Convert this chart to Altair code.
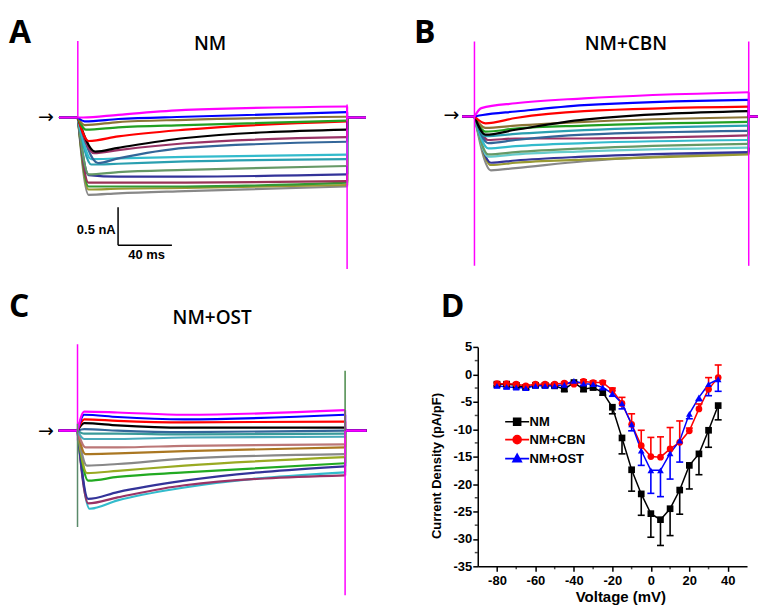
import altair as alt
import pandas as pd

MAGENTA = "#ff00ff"

# ---------------- Panel A : NM current traces (nA), listed top -> bottom ----------------
A_colors = ["#ff00ff", "#0000ff", "#8b7536", "#22a022", "#ff0000", "#000000", "#993366", "#336699",
            "#33bbcc", "#2a9fb0", "#669966", "#333399", "#993355", "#339933", "#999933", "#888888"]
A_tpeak = [4, 5, 5, 6, 8, 13, 12, 15, 10, 10, 8, 8, 8, 8, 8, 8]
A_peak = [0.0, -0.05, -0.10, -0.16, -0.31, -0.45, -0.47, -0.60, -0.55, -0.62, -0.75, -0.76, -0.86, -0.91, -0.95, -1.02]
A_early = [0.035, -0.02, -0.06, -0.13, -0.25, -0.40, -0.43, -0.54, -0.54, -0.61, -0.72, -0.78, -0.86, -0.91, -0.94, -1.0]
A_mid = [0.10, 0.01, -0.03, -0.10, -0.16, -0.27, -0.34, -0.40, -0.52, -0.58, -0.69, -0.78, -0.86, -0.91, -0.93, -0.97]
A_end = [0.145, 0.07, 0.01, -0.04, -0.05, -0.16, -0.26, -0.32, -0.49, -0.55, -0.64, -0.75, -0.84, -0.86, -0.89, -0.91]
A_spike_t = [0, 200]
A_spike_top = [1.01, 0.17]
A_spike_bottom = [0.0, -2.0]
A_spike_color = [MAGENTA, MAGENTA]

# ---------------- Panel B : NM+CBN ----------------
B_colors = ["#ff00ff", "#0000ff", "#ff0000", "#000000", "#8b7536", "#22a022", "#2a9fb0", "#336699",
            "#993366", "#33bbcc", "#669966", "#66cccc", "#333399", "#999933", "#888888"]
B_tpeak = [5, 6, 8, 8, 8, 8, 8, 10, 10, 10, 10, 10, 12, 12, 12]
B_peak = [0.11, 0.02, -0.09, -0.24, -0.15, -0.20, -0.26, -0.35, -0.31, -0.42, -0.50, -0.53, -0.61, -0.64, -0.71]
B_early = [0.175, 0.066, -0.02, -0.175, -0.12, -0.16, -0.23, -0.31, -0.29, -0.39, -0.47, -0.50, -0.58, -0.61, -0.68]
B_mid = [0.24, 0.15, 0.07, -0.04, -0.07, -0.12, -0.18, -0.24, -0.29, -0.35, -0.42, -0.46, -0.53, -0.57, -0.59]
B_end = [0.32, 0.22, 0.13, 0.07, -0.01, -0.07, -0.12, -0.19, -0.25, -0.31, -0.36, -0.41, -0.47, -0.50, -0.48]
B_spike_t = [0, 200]
B_spike_top = [0.99, 0.99]
B_spike_bottom = [-1.97, -1.97]
B_spike_color = [MAGENTA, MAGENTA]

# ---------------- Panel C : NM+OST ----------------
C_colors = ["#ff00ff", "#0000ff", "#ff0000", "#000000", "#336699", "#3a9a9a", "#4aaabb", "#bb7777",
            "#aa7722", "#888888", "#99aa22", "#22aa22", "#333399", "#993366", "#33bbcc"]
C_tpeak = [5, 5, 5, 5, 5, 5, 5, 6, 6, 7, 7, 8, 8, 8, 9]
C_peak = [0.25, 0.21, 0.15, 0.10, 0.02, -0.04, -0.11, -0.22, -0.31, -0.46, -0.56, -0.66, -0.90, -0.96, -1.03]
C_early = [0.24, 0.18, 0.13, 0.07, 0.0, -0.04, -0.11, -0.22, -0.30, -0.44, -0.53, -0.61, -0.81, -0.88, -0.92]
C_mid = [0.21, 0.15, 0.11, 0.04, -0.02, -0.05, -0.09, -0.20, -0.27, -0.37, -0.46, -0.55, -0.66, -0.72, -0.75]
C_end = [0.27, 0.21, 0.12, 0.04, 0.0, -0.04, -0.08, -0.18, -0.22, -0.31, -0.35, -0.43, -0.47, -0.59, -0.55]
C_spike_t = [0, 0, 200, 200]
C_spike_top = [1.14, 0.09, 0.79, 0.0]
C_spike_bottom = [-0.13, -1.27, -0.10, -2.17]
C_spike_color = [MAGENTA, "#5a8a6a", "#4a8a4a", MAGENTA]

STEP_END = 200.0      # ms, end of the voltage step
EARLY_T = 30.0        # ms, time of the early reading
MID_T = 80.0          # ms, time of the mid reading
SCALE_MS = 40         # scale bar
SCALE_NA = 0.5

# ---------------- Panel D : I-V relationship ----------------
voltage = [-80, -75, -70, -65, -60, -55, -50, -45, -40, -35, -30, -25,
           -20, -15, -10, -5, 0, 5, 10, 15, 20, 25, 30, 35]
nm_mean = [-1.8, -1.8, -2.0, -2.4, -2.0, -2.0, -2.1, -2.7, -1.5, -2.7, -2.4, -3.3,
           -6.0, -11.6, -17.4, -21.8, -25.4, -26.5, -24.5, -21.1, -16.6, -14.5, -10.2, -5.7]
nm_err = [0.3, 0.3, 0.3, 0.3, 0.3, 0.3, 0.3, 0.4, 0.3, 0.4, 0.4, 0.5,
          1.2, 2.9, 3.9, 3.9, 4.3, 4.7, 4.9, 4.4, 4.3, 3.8, 3.1, 2.6]
cbn_mean = [-1.7, -1.7, -1.8, -2.1, -1.8, -1.8, -1.8, -1.6, -1.8, -1.3, -1.5, -1.5,
            -2.9, -5.3, -9.1, -13.0, -15.0, -15.1, -13.6, -12.4, -10.3, -6.3, -2.7, -0.6]
cbn_err = [0.2, 0.2, 0.2, 0.2, 0.2, 0.2, 0.2, 0.2, 0.2, 0.3, 0.3, 0.3,
           0.4, 1.1, 1.9, 2.8, 3.5, 3.7, 3.9, 3.9, 0.5, 0.9, 2.1, 2.3]
ost_mean = [-2.1, -2.3, -2.4, -2.5, -2.1, -2.1, -2.1, -1.9, -1.2, -1.7, -1.8, -2.4,
            -3.5, -5.3, -9.1, -13.9, -17.5, -17.5, -14.4, -12.1, -7.2, -4.2, -1.8, -0.9]
ost_err = [0.3, 0.3, 0.3, 0.3, 0.3, 0.3, 0.3, 0.3, 0.3, 0.3, 0.3, 0.3,
           0.5, 1.0, 1.2, 2.7, 4.2, 4.8, 4.7, 3.9, 0.9, 0.6, 2.1, 2.2]
series = ["NM", "NM+CBN", "NM+OST"]
series_colors = ["#000000", "#ff0000", "#0000ff"]
series_shapes = ["square", "circle", "triangle-up"]
err_direction = [-1, 1, -1]
X_MIN, X_MAX = -90, 50
Y_MIN, Y_MAX = -35, 5
x_major = [-80, -60, -40, -20, 0, 20, 40]
x_minor = [-70, -50, -30, -10, 10, 30]
y_major = [-35, -30, -25, -20, -15, -10, -5, 0, 5]
y_minor = [-32.5, -27.5, -22.5, -17.5, -12.5, -7.5, -2.5, 2.5]

# legend symbols: a line segment with the series marker on it
legend_paths = [
    "M-3.43,0H3.43M-1,-1H1V1H-1Z",
    "M-3.43,0H3.43M-1.15,0A1.15,1.15,0,1,0,1.15,0A1.15,1.15,0,1,0,-1.15,0Z",
    "M-3.43,0H3.43M0,-1.25L1.2,0.9H-1.2Z",
]


def trace_frame(colors, tpeak, peak, early, mid, end, t_pre, t_post):
    rows = []
    n = len(colors)
    for i in reversed(range(n)):
        key = f"{n - 1 - i:02d}"
        parts = {
            "a_pre": [(t_pre, 0.0), (0.0, 0.0)],
            "b_step": [(0.0, 0.0), (tpeak[i], peak[i]), (EARLY_T, early[i]), (MID_T, mid[i]), (STEP_END, end[i])],
            "c_post": [(STEP_END, end[i]), (STEP_END, 0.0), (t_post, 0.0)],
        }
        for part, pts in parts.items():
            for k, (t, v) in enumerate(pts):
                rows.append({"trace": key, "seg": key + part, "part": part, "color": colors[i],
                             "k": k, "t": t, "v": v})
    return pd.DataFrame(rows)


def spike_frame(t, top, bottom, colors):
    return pd.DataFrame({"t": t, "v1": top, "v2": bottom, "color": colors})


def label(text, x, y, size, font="Open Sans", weight="bold", align="left", baseline="alphabetic"):
    return alt.Chart(pd.DataFrame({"label": [text]})).mark_text(
        font=font, fontSize=size, fontWeight=weight, align=align, baseline=baseline, color="black"
    ).encode(text="label:N", x=alt.value(x), y=alt.value(y))


def trace_panel(traces, spikes, geom, extras):
    ox, oy, w, h, t0x, pxms, basey, pxna = geom
    xs = alt.Scale(domain=[(ox - t0x) / pxms, (ox + w - t0x) / pxms], nice=False, zero=False)
    ys = alt.Scale(domain=[(basey - (oy + h)) / pxna, (basey - oy) / pxna], nice=False, zero=False)
    enc = dict(
        x=alt.X("t:Q", scale=xs, axis=None),
        y=alt.Y("v:Q", scale=ys, axis=None),
        detail="seg:N",
        order="k:Q",
        color=alt.Color("color:N", scale=None),
    )
    edges = alt.Chart(traces).transform_filter("datum.part !== 'b_step'").mark_line(
        strokeWidth=2.2, clip=True).encode(**enc)
    steps = alt.Chart(traces).transform_filter("datum.part === 'b_step'").mark_line(
        strokeWidth=2.2, clip=True, interpolate="monotone").encode(**enc)
    sp = alt.Chart(spikes).mark_rule(strokeWidth=1.5, clip=True).encode(
        x=alt.X("t:Q", scale=xs, axis=None),
        y=alt.Y("v1:Q", scale=ys, axis=None),
        y2="v2:Q",
        color=alt.Color("color:N", scale=None),
    )
    layers = [steps, edges, sp] + [e(xs, ys) for e in extras]
    return alt.layer(*layers).properties(width=w, height=h)


def const(layer):
    return lambda xs, ys: layer


# geometry: view origin x, y, width, height, x of step start, px per ms, baseline y, px per nA
geomA = (8, 8, 376, 277, 77.0, 1.35, 116.0, 76.0)
geomB = (384, 8, 375, 277, 474.7, 1.375, 115.0, 76.0)
geomC = (8, 285, 376, 315, 76.7, 1.3415, 430.0, 76.0)

SB_T0, SB_V0 = 29.9, -1.684
sb = pd.DataFrame({"t0": [SB_T0], "t1": [SB_T0 + SCALE_MS], "v0": [SB_V0], "v1": [SB_V0 + SCALE_NA]})


def scalebar(xs, ys):
    vert = alt.Chart(sb).mark_rule(strokeWidth=1.5, color="black").encode(
        x=alt.X("t0:Q", scale=xs, axis=None), y=alt.Y("v0:Q", scale=ys, axis=None), y2="v1:Q")
    hor = alt.Chart(sb).mark_rule(strokeWidth=1.5, color="black").encode(
        x=alt.X("t0:Q", scale=xs, axis=None), x2="t1:Q", y=alt.Y("v0:Q", scale=ys, axis=None))
    return alt.layer(vert, hor)


def arrow(x, y):
    return label("\u2192", x, y, 19, font="DejaVu Sans", weight="normal", align="center", baseline="middle")


panelA = trace_panel(
    trace_frame(A_colors, A_tpeak, A_peak, A_early, A_mid, A_end, -14, 214),
    spike_frame(A_spike_t, A_spike_top, A_spike_bottom, A_spike_color),
    geomA,
    [scalebar,
     const(label("A", 0, 33, 32)),
     const(label("NM", 201.7, 40.3, 19, weight=600, align="center")),
     const(arrow(37, 108)),
     const(label("0.5 nA", 107, 225, 13, font="Liberation Sans", align="right")),
     const(label("40 ms", 138, 250, 13, font="Liberation Sans", align="center"))],
)

panelB = trace_panel(
    trace_frame(B_colors, B_tpeak, B_peak, B_early, B_mid, B_end, -9, 215),
    spike_frame(B_spike_t, B_spike_top, B_spike_bottom, B_spike_color),
    geomB,
    [const(label("B", 30, 33, 32)),
     const(label("NM+CBN", 242.5, 40.3, 19, weight=600, align="center")),
     const(arrow(67.5, 106))],
)

panelC = trace_panel(
    trace_frame(C_colors, C_tpeak, C_peak, C_early, C_mid, C_end, -14, 216),
    spike_frame(C_spike_t, C_spike_top, C_spike_bottom, C_spike_color),
    geomC,
    [const(label("C", 0, 31, 32)),
     const(label("NM+OST", 203.7, 38.3, 19, weight=600, align="center")),
     const(arrow(37, 145))],
)

# ---------------- Panel D chart ----------------
rows = []
for s, mean, err, d in zip(series, [nm_mean, cbn_mean, ost_mean], [nm_err, cbn_err, ost_err], err_direction):
    for v, m, e in zip(voltage, mean, err):
        rows.append({"series": s, "voltage": v, "mean": m, "err_end": m + d * e})
iv = pd.DataFrame(rows)
minor_x = pd.DataFrame({"voltage": x_minor, "mean": [Y_MIN] * len(x_minor)})
minor_y = pd.DataFrame({"voltage": [X_MIN] * len(y_minor), "mean": y_minor})

axis_common = dict(domainColor="black", domainWidth=1.5, tickColor="black", tickWidth=1.5,
                   tickSize=5, tickCount=40, labelExpr="'' + datum.value",
                   labelFont="Liberation Sans", labelFontWeight="bold", labelFontSize=13,
                   labelColor="black", titleFont="Liberation Sans", titleFontWeight="bold",
                   titleColor="black", grid=False, labelFlush=False, labelOverlap=False)

x_axis = alt.Axis(values=x_major, labelPadding=3, title="Voltage (mV)", titleFontSize=15,
                  titlePadding=2, titleX=143, **axis_common)
y_axis = alt.Axis(values=y_major, labelPadding=1, title="Current Density (pA/pF)", titleFontSize=13,
                  titlePadding=10, titleY=119, **axis_common)

xD = alt.X("voltage:Q", scale=alt.Scale(domain=[X_MIN, X_MAX], nice=False, zero=False), axis=x_axis)
yD = alt.Y("mean:Q", scale=alt.Scale(domain=[Y_MIN, Y_MAX], nice=False, zero=False), axis=y_axis)

# D plot origin inside the whole chart (legends are placed in whole-chart coordinates)
D_OX, D_OY = 470, 338
LEG_X, LEG_Y = D_OX + 33, D_OY + 68.5

leg = alt.Legend(title=None, orient="none", legendX=LEG_X, legendY=LEG_Y, padding=0,
                 symbolSize=49, symbolStrokeWidth=1.6,
                 labelFont="Liberation Sans", labelFontWeight="bold", labelFontSize=13,
                 labelColor="black", labelOffset=6, rowPadding=3)
stroke_enc = alt.Stroke("series:N", scale=alt.Scale(domain=series, range=series_colors), legend=leg)

lineD = alt.Chart(iv).mark_line(strokeWidth=1.5).encode(x=xD, y=yD, stroke=stroke_enc)
errD = alt.Chart(iv).mark_rule(strokeWidth=1.6).encode(x=xD, y=yD, y2="err_end:Q", stroke=stroke_enc)
capD = alt.Chart(iv).mark_point(shape="stroke", size=49, strokeWidth=1.6, filled=False, opacity=1).encode(
    x=xD, y=alt.Y("err_end:Q"), stroke=stroke_enc)
pts_layers = [
    alt.Chart(iv).transform_filter(alt.datum.series == s).mark_point(
        filled=True, size=45, opacity=1, color=c, shape=sh).encode(x=xD, y=yD)
    for s, c, sh in zip(series, series_colors, series_shapes)
]
legendD = alt.Chart(iv).transform_filter("false").mark_point(
    filled=True, size=49, strokeWidth=1.6, opacity=1).encode(
    x=xD, y=yD,
    stroke=stroke_enc,
    fill=alt.Fill("series:N", scale=alt.Scale(domain=series, range=series_colors), legend=leg),
    shape=alt.Shape("series:N", scale=alt.Scale(domain=series, range=legend_paths), legend=leg),
)
minorXD = alt.Chart(minor_x).mark_tick(orient="vertical", size=3, thickness=1.5, yOffset=1.5,
                                       color="black").encode(x=xD, y=yD)
minorYD = alt.Chart(minor_y).mark_tick(orient="horizontal", size=3, thickness=1.5, xOffset=-1.5,
                                       color="black").encode(x=xD, y=yD)
panelD = alt.layer(lineD, errD, capD, *pts_layers, legendD, minorXD, minorYD).properties(width=270, height=220)

# spacers that offset the I-V plot inside its grid cell (page x 384 -> 478, y 285 -> 346)
spacer_top = label("D", 57, 31, 32).properties(width=375, height=61)
spacer_left = label("", 0, 0, 1).properties(width=94, height=220)
colD = alt.vconcat(spacer_top, alt.hconcat(spacer_left, panelD, spacing=0, bounds="flush"),
                   spacing=0, bounds="flush")

chart = alt.concat(panelA, panelB, panelC, colD, columns=2, spacing=0, bounds="flush").properties(
    padding=0, background="white"
).configure_view(stroke="transparent")

chart.save("out.html", embed_options={"renderer": "svg", "actions": False})
